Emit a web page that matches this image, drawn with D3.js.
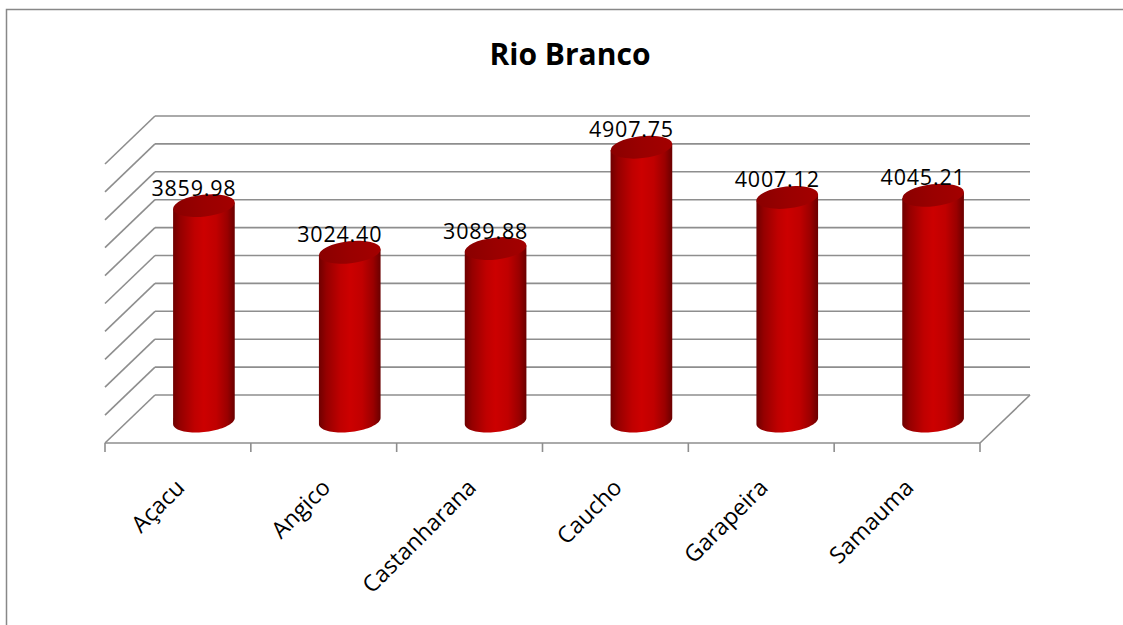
<!DOCTYPE html>
<html>
<head>
<meta charset="utf-8">
<script src="https://cdn.jsdelivr.net/npm/d3@7"></script>
<style>
  html, body { margin: 0; padding: 0; background: #fff; }
  svg { display: block; }
</style>
</head>
<body>
<svg id="chart" width="1123" height="625"></svg>
<script>
const title = "Rio Branco";
const categories = ["Açacu", "Angico", "Castanharana", "Caucho", "Garapeira", "Samauma"];
const values = [3859.98, 3024.40, 3089.88, 4907.75, 4007.12, 4045.21];
const yTicks = [0, 500, 1000, 1500, 2000, 2500, 3000, 3500, 4000, 4500, 5000];

const svg = d3.select("#chart");
const W = 1123, H = 625;

// 3D geometry
const depth = { dx: 50, dy: -48 };
const frontLeft = 105, frontRight = 980, floorY = 443;
const x = d3.scaleBand().domain(categories).range([frontLeft, frontRight]).paddingInner(0).paddingOuter(0);
const yBack = d3.scaleLinear().domain([0, 5000]).range([floorY + depth.dy, 116]);

// gradients
const defs = svg.append("defs");
const g1 = defs.append("linearGradient").attr("id", "side").attr("x1", "0%").attr("x2", "100%").attr("y1", "0%").attr("y2", "0%");
[[0, "#6f0000"], [0.12, "#950000"], [0.35, "#bf0000"], [0.5, "#cc0000"], [0.7, "#c00000"], [0.88, "#9a0000"], [1, "#6a0000"]]
  .forEach(([o, c]) => g1.append("stop").attr("offset", o).attr("stop-color", c));
const g2 = defs.append("linearGradient").attr("id", "topg").attr("x1", "0%").attr("x2", "100%").attr("y1", "0%").attr("y2", "0%");
[[0, "#8a0000"], [0.5, "#9a0000"], [1, "#a30000"]]
  .forEach(([o, c]) => g2.append("stop").attr("offset", o).attr("stop-color", c));

// outer border
svg.append("path").attr("d", `M6.5,${H} L6.5,9.5 L${W},9.5`).attr("fill", "none").attr("stroke", "#888").attr("stroke-width", 1.5);

// title
svg.append("text").attr("x", 570).attr("y", 65).attr("text-anchor", "middle")
  .attr("font-family", "'Open Sans', sans-serif").attr("font-weight", "bold").attr("font-size", 30)
  .attr("fill", "#000").text(title);

const gridColor = "#8e8e8e";
const grid = svg.append("g").attr("stroke", gridColor).attr("stroke-width", 1.6).attr("fill", "none");
const backLeft = frontLeft + depth.dx, backRight = frontRight + depth.dx;

// back wall gridlines + left wall diagonals
grid.selectAll("line.h").data(yTicks).join("line").attr("class", "h")
  .attr("x1", backLeft).attr("x2", backRight)
  .attr("y1", d => yBack(d)).attr("y2", d => yBack(d));
grid.selectAll("line.d").data(yTicks).join("line").attr("class", "d")
  .attr("x1", backLeft).attr("x2", frontLeft)
  .attr("y1", d => yBack(d)).attr("y2", d => yBack(d) - depth.dy);
// floor
grid.append("line").attr("x1", frontLeft).attr("x2", frontRight).attr("y1", floorY).attr("y2", floorY);
grid.append("line").attr("x1", frontRight).attr("x2", backRight).attr("y1", floorY).attr("y2", floorY + depth.dy);
// ticks
const tickPos = categories.map(c => x(c)).concat([frontRight]);
grid.selectAll("line.t").data(tickPos).join("line").attr("class", "t")
  .attr("x1", d => d).attr("x2", d => d).attr("y1", floorY).attr("y2", floorY + 9);

// cylinders
const rx = 31, ry = 11, theta = -6.5 * Math.PI / 180;
const midDx = 26, baseY = 421;
const scaleH = v => yBack(0) - yBack(v);

function ellPt(cx, cy, t) {
  return [cx + rx * Math.cos(t) * Math.cos(theta) - ry * Math.sin(t) * Math.sin(theta),
          cy + rx * Math.cos(t) * Math.sin(theta) + ry * Math.sin(t) * Math.cos(theta)];
}
const t0 = Math.atan(-(ry / rx) * Math.tan(theta)); // tangent parameter
let tL = t0, tR = t0 + Math.PI;
if (ellPt(0, 0, tL)[0] > ellPt(0, 0, tR)[0]) { const tmp = tL; tL = tR; tR = tmp; }
function lowerHalf(cx, cy) {
  const n = 40, pts = [];
  let a = ellPt(0, 0, (tL + tR) / 2)[1];
  let dir = a > 0 ? 1 : -1;
  for (let i = 0; i <= n; i++) {
    const t = dir > 0 ? tL + (tR - tL) * i / n : tL - (2 * Math.PI - (tR - tL)) * i / n;
    pts.push(ellPt(cx, cy, t));
  }
  return pts;
}

const bars = svg.append("g");
categories.forEach((c, i) => {
  const cx = x(c) + x.bandwidth() / 2 + midDx;
  const yb = baseY;
  const yt = baseY - scaleH(values[i]);
  const topL = ellPt(cx, yt, tL), topR = ellPt(cx, yt, tR);
  const pts = [topL].concat(lowerHalf(cx, yb)).concat([topR]);
  bars.append("path").attr("d", d3.line()(pts) + "Z").attr("fill", "url(#side)");
  bars.append("ellipse").attr("cx", cx).attr("cy", yt).attr("rx", rx).attr("ry", ry)
    .attr("transform", `rotate(${theta * 180 / Math.PI},${cx},${yt})`)
    .attr("fill", "url(#topg)");
});

// value labels
svg.append("g").selectAll("text").data(categories).join("text")
  .attr("x", (c) => x(c) + x.bandwidth() / 2 + midDx - 10)
  .attr("y", (c, i) => baseY - scaleH(values[i]) - ry + 1)
  .attr("text-anchor", "middle")
  .attr("font-family", "'Open Sans', sans-serif").attr("font-size", 21.5).attr("letter-spacing", 0.8)
  .attr("fill", "#000")
  .text((c, i) => d3.format(".2f")(values[i]));

// category labels
svg.append("g").selectAll("text").data(categories).join("text")
  .attr("transform", c => `translate(${x(c) + x.bandwidth() / 2 + 8},489) rotate(-45)`)
  .attr("text-anchor", "end")
  .attr("font-family", "'Open Sans', sans-serif").attr("font-size", 23)
  .attr("fill", "#000")
  .text(c => c);
</script>
</body>
</html>
